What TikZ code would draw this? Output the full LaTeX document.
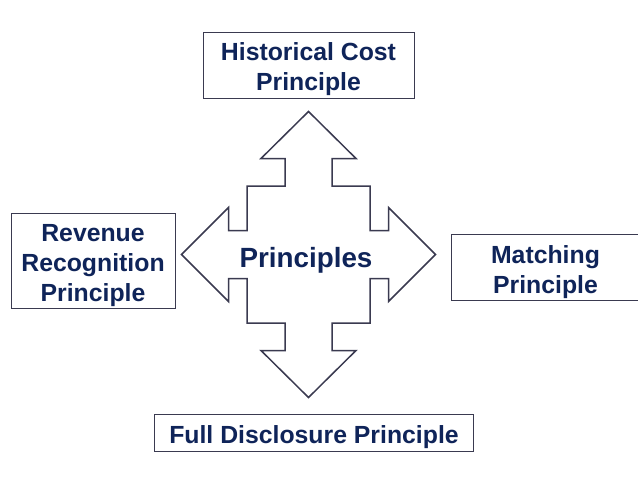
\documentclass[tikz,border=0pt]{standalone}
\usepackage{fontspec}
\setmainfont{Liberation Sans}
\definecolor{navy}{HTML}{0F2459}
\definecolor{edge}{HTML}{3A3A50}
\begin{document}
\begin{tikzpicture}
[x=1pt,y=-1pt,
every node/.style={text=navy,font=\bfseries\fontsize{24.8}{29.6}\selectfont,align=center,inner sep=0pt},
box/.style={draw=edge,line width=1pt,fill=white},
crossarrow/.style={draw=edge,line width=1.5pt,fill=white,line join=miter},
]
\useasboundingbox (0,0) rectangle (638,479);
\clip (0,0) rectangle (638,479);
% four-way arrow in the middle
\draw[crossarrow,shift={(308.5,254.5)}]
  (0,-143) -- (47.5,-96) -- (23.5,-96) -- (23.5,-68.5) -- (61.5,-68.5) -- (61.5,-24)
  -- (80,-24) -- (80,-47) -- (127,0) -- (80,47) -- (80,24) -- (61.5,24)
  -- (61.5,68.5) -- (23.5,68.5) -- (23.5,96) -- (47.5,96) -- (0,143)
  -- (-47.5,96) -- (-23.5,96) -- (-23.5,68.5) -- (-61.5,68.5) -- (-61.5,24)
  -- (-80,24) -- (-80,47) -- (-127,0) -- (-80,-47) -- (-80,-24) -- (-61.5,-24)
  -- (-61.5,-68.5) -- (-23.5,-68.5) -- (-23.5,-96) -- (-47.5,-96) -- cycle;
\node[font=\bfseries\fontsize{27.8}{33}\selectfont] (principles) at (306,260) {Principles};
% the four principles
\node[box,minimum width=211pt,minimum height=65.5pt] (historical) at (308.5,65.5) {};
\node[box,minimum width=164pt,minimum height=95pt] (revenue) at (93,260.5) {};
\node[box,minimum width=188pt,minimum height=66pt] (matching) at (545.5,267) {};
\node[box,minimum width=318.5pt,minimum height=36.5pt] (disclosure) at (314,433) {};
\node at ([yshift=-3.5pt]historical.center) {Historical Cost\\Principle};
\node at ([yshift=-5pt]revenue.center) {Revenue\\Recognition\\Principle};
\node at ([yshift=-5pt]matching.center) {Matching\\Principle};
\node at ([yshift=-4pt]disclosure.center) {Full Disclosure Principle};
\end{tikzpicture}
\end{document}
